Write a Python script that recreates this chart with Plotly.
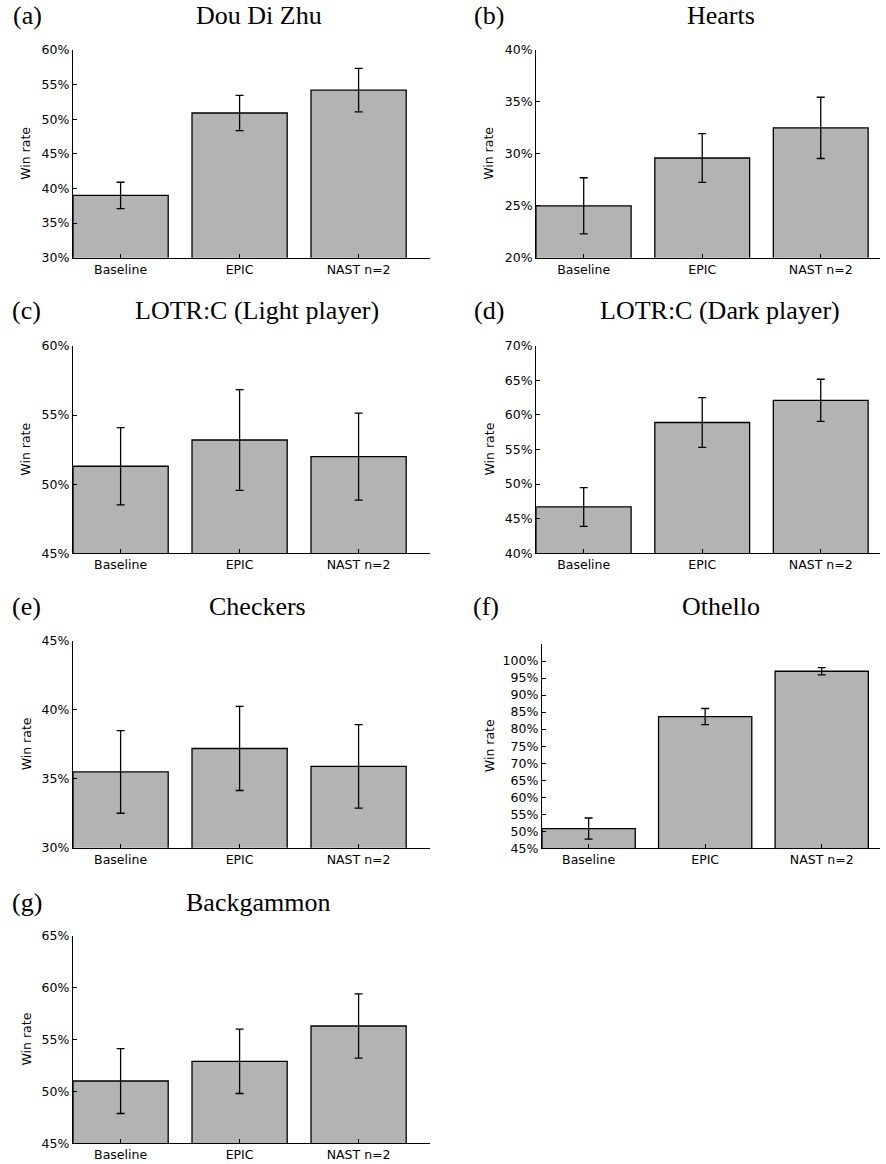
import plotly.graph_objects as go

W, H = 886, 1164

categories = ["Baseline", "EPIC", "NAST n=2"]

titles = ["Dou Di Zhu", "Hearts", "LOTR:C (Light player)", "LOTR:C (Dark player)",
          "Checkers", "Othello", "Backgammon"]
letters = ["(a)", "(b)", "(c)", "(d)", "(e)", "(f)", "(g)"]

dou_di_zhu = [39.0, 50.9, 54.2]
dou_di_zhu_err = [1.9, 2.55, 3.15]
hearts = [25.0, 29.6, 32.5]
hearts_err = [2.7, 2.35, 2.95]
lotr_light = [51.3, 53.2, 52.0]
lotr_light_err = [2.8, 3.65, 3.15]
lotr_dark = [46.7, 58.9, 62.1]
lotr_dark_err = [2.8, 3.6, 3.05]
checkers = [35.5, 37.2, 35.9]
checkers_err = [3.0, 3.05, 3.03]
othello = [50.8, 83.7, 97.0]
othello_err = [3.1, 2.35, 1.05]
backgammon = [51.0, 52.9, 56.3]
backgammon_err = [3.13, 3.1, 3.1]

values = [dou_di_zhu, hearts, lotr_light, lotr_dark, checkers, othello, backgammon]
errors = [dou_di_zhu_err, hearts_err, lotr_light_err, lotr_dark_err,
          checkers_err, othello_err, backgammon_err]

y_ranges = [(30, 60), (20, 40), (45, 60), (40, 70), (30, 45), (45, 105), (45, 65)]
y_ticks = [list(range(30, 61, 5)), list(range(20, 41, 5)), list(range(45, 61, 5)),
           list(range(40, 71, 5)), list(range(30, 46, 5)), list(range(45, 101, 5)),
           list(range(45, 66, 5))]

# panel boxes in pixels: (x0, x1, y_top, y_bottom), x range
boxes = [
    (73, 430, 50, 257.7, (-0.4, 2.6)),
    (536.3, 880, 50, 257.7, (-0.4, 2.5)),
    (73, 430, 346, 553.3, (-0.4, 2.6)),
    (536.3, 880, 345.7, 553.3, (-0.4, 2.5)),
    (73, 430, 641, 847.7, (-0.4, 2.6)),
    (542, 880, 644, 848.3, (-0.4, 2.5)),
    (73, 430, 935.7, 1143.3, (-0.4, 2.6)),
]
title_pos = [(258.5, 16), (720.5, 16), (257, 311), (720, 311), (257.5, 606), (720.5, 606), (257.5, 902)]
letter_pos = [(27, 16), (489, 16), (26, 311), (489, 311), (26, 606), (486, 606), (27, 902)]
ylabel_x = [26, 489, 26, 489, 26, 489, 26]

fig = go.Figure()
layout = dict(
    template="none",
    width=W, height=H, autosize=False,
    margin=dict(l=0, r=0, t=0, b=0, pad=0, autoexpand=False),
    paper_bgcolor="white", plot_bgcolor="white",
    showlegend=False,
    font=dict(family="DejaVu Sans", size=12.5, color="black"),
)
annotations = []
serif = "Liberation Serif"

for i in range(7):
    n = "" if i == 0 else str(i + 1)
    x0, x1, yt, yb, xr = boxes[i]
    fig.add_trace(go.Bar(
        x=[0, 1, 2], y=values[i], width=0.8,
        marker=dict(color="#b3b3b3", line=dict(color="black", width=1.3)),
        error_y=dict(type="data", array=errors[i], color="black", thickness=1.3, width=4),
        xaxis="x" + n, yaxis="y" + n,
    ))
    layout["xaxis" + n] = dict(
        domain=[x0 / W, x1 / W], anchor="y" + n, range=list(xr),
        tickvals=[0, 1, 2], ticktext=categories, automargin=False,
        ticks="inside", ticklen=4, tickwidth=1, tickcolor="black",
        showline=True, linecolor="black", linewidth=1.3,
        showgrid=False, zeroline=False, fixedrange=True,
    )
    layout["yaxis" + n] = dict(
        domain=[1 - yb / H, 1 - yt / H], anchor="x" + n, range=list(y_ranges[i]),
        tickvals=y_ticks[i], ticktext=[f"{v}%" for v in y_ticks[i]], automargin=False,
        ticks="inside", ticklen=4, tickwidth=1, tickcolor="black",
        showline=True, linecolor="black", linewidth=1.3,
        showgrid=False, zeroline=False, fixedrange=True,
    )
    tx, ty = title_pos[i]
    annotations.append(dict(text=titles[i], x=tx / W, y=1 - ty / H, xref="paper", yref="paper",
                            xanchor="center", yanchor="middle", showarrow=False,
                            font=dict(family=serif, size=26, color="black")))
    lx, ly = letter_pos[i]
    annotations.append(dict(text=letters[i], x=lx / W, y=1 - ly / H, xref="paper", yref="paper",
                            xanchor="center", yanchor="middle", showarrow=False,
                            font=dict(family=serif, size=26, color="black")))
    annotations.append(dict(text="Win rate", x=ylabel_x[i] / W, y=1 - ((yt + yb) / 2) / H,
                            xref="paper", yref="paper", xanchor="center", yanchor="middle",
                            textangle=-90, showarrow=False,
                            font=dict(family="DejaVu Sans", size=12.5, color="black")))

layout["annotations"] = annotations
fig.update_layout(**layout)
fig.write_html(
    "out.html",
    config={"displayModeBar": False},
    post_script="document.documentElement.style.margin='0';document.body.style.margin='0';"
                "document.body.style.padding='0';document.body.style.overflow='hidden';",
)
